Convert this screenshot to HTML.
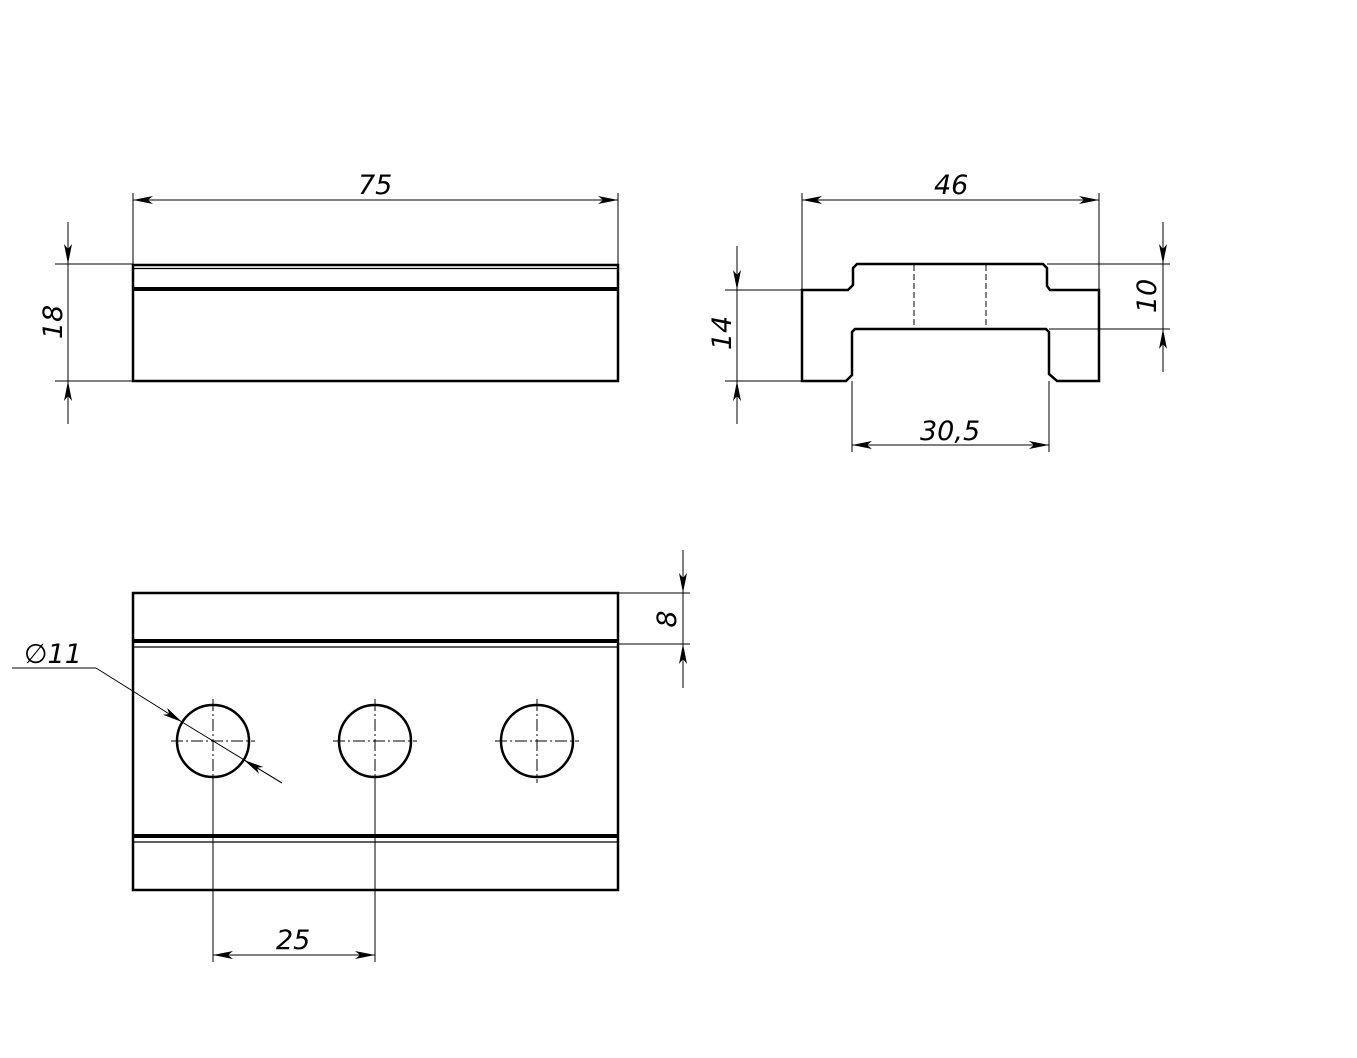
<!DOCTYPE html>
<html><head><meta charset="utf-8"><style>
html,body{margin:0;padding:0;background:#fff;}
svg{display:block}
text{font-family:"DejaVu Sans","Liberation Sans",sans-serif;font-style:italic;font-size:27px;fill:#000}
</style></head><body>
<svg width="1357" height="1058" viewBox="0 0 1357 1058" xmlns="http://www.w3.org/2000/svg">
<defs>
<marker id="a" viewBox="0 0 20 8" refX="20" refY="4" markerWidth="20" markerHeight="8" markerUnits="userSpaceOnUse" orient="auto"><path d="M0,0 L20,4 L0,8 L5,4 Z" fill="#000"/></marker>
</defs>
<g fill="none" stroke="#000">
<!-- Front view -->
<rect x="133" y="265" width="485" height="116" stroke-width="2.5"/>
<line x1="133" y1="268.5" x2="618" y2="268.5" stroke-width="1.2"/>
<line x1="133" y1="289" x2="618" y2="289" stroke-width="4"/>
<!-- dim 75 -->
<line x1="133" y1="193" x2="133" y2="264" stroke-width="1"/>
<line x1="618" y1="193" x2="618" y2="264" stroke-width="1"/>
<line x1="160" y1="200" x2="133" y2="200" stroke-width="1" marker-end="url(#a)"/>
<line x1="160" y1="200" x2="618" y2="200" stroke-width="1" marker-end="url(#a)"/>
<!-- dim 18 -->
<line x1="55" y1="264" x2="133" y2="264" stroke-width="1"/>
<line x1="55" y1="381" x2="133" y2="381" stroke-width="1"/>
<line x1="68" y1="222" x2="68" y2="264" stroke-width="1" marker-end="url(#a)"/>
<line x1="68" y1="424" x2="68" y2="381" stroke-width="1" marker-end="url(#a)"/>
<line x1="68" y1="264" x2="68" y2="381" stroke-width="1"/>

<!-- Side view -->
<path d="M802,290 L848,290 L853,285 L853,268 L857,264 L1043,264 L1047,268 L1047,286 L1050,290 L1099,290 L1099,381 L1057,381 L1049,374 L1049,332 L1046,329 L855,329 L852,332 L852,375 L846,381 L802,381 Z" stroke-width="2.5"/>
<line x1="914" y1="265" x2="914" y2="328" stroke-width="1" stroke-dasharray="6,3"/>
<line x1="986" y1="265" x2="986" y2="328" stroke-width="1" stroke-dasharray="6,3"/>
<!-- dim 46 -->
<line x1="802" y1="193" x2="802" y2="290" stroke-width="1"/>
<line x1="1099" y1="193" x2="1099" y2="290" stroke-width="1"/>
<line x1="830" y1="200" x2="802" y2="200" stroke-width="1" marker-end="url(#a)"/>
<line x1="830" y1="200" x2="1099" y2="200" stroke-width="1" marker-end="url(#a)"/>
<!-- dim 14 -->
<line x1="725" y1="290" x2="802" y2="290" stroke-width="1"/>
<line x1="725" y1="381" x2="802" y2="381" stroke-width="1"/>
<line x1="737" y1="246" x2="737" y2="290" stroke-width="1" marker-end="url(#a)"/>
<line x1="737" y1="424" x2="737" y2="381" stroke-width="1" marker-end="url(#a)"/>
<line x1="737" y1="290" x2="737" y2="381" stroke-width="1"/>
<!-- dim 10 -->
<line x1="1047" y1="264" x2="1170" y2="264" stroke-width="1"/>
<line x1="1049" y1="329" x2="1170" y2="329" stroke-width="1"/>
<line x1="1163" y1="222" x2="1163" y2="264" stroke-width="1" marker-end="url(#a)"/>
<line x1="1163" y1="372" x2="1163" y2="329" stroke-width="1" marker-end="url(#a)"/>
<line x1="1163" y1="264" x2="1163" y2="329" stroke-width="1"/>
<!-- dim 30,5 -->
<line x1="852" y1="381" x2="852" y2="452" stroke-width="1"/>
<line x1="1049" y1="381" x2="1049" y2="452" stroke-width="1"/>
<line x1="900" y1="445" x2="852" y2="445" stroke-width="1" marker-end="url(#a)"/>
<line x1="900" y1="445" x2="1049" y2="445" stroke-width="1" marker-end="url(#a)"/>

<!-- Top view -->
<rect x="133" y="593" width="485" height="297" stroke-width="2.5"/>
<line x1="133" y1="641" x2="618" y2="641" stroke-width="4"/>
<line x1="133" y1="647" x2="618" y2="647" stroke-width="1.2"/>
<line x1="133" y1="836" x2="618" y2="836" stroke-width="4"/>
<line x1="133" y1="842" x2="618" y2="842" stroke-width="1.2"/>
<circle cx="213" cy="741" r="36" stroke-width="2.5"/>
<circle cx="375" cy="741" r="36" stroke-width="2.5"/>
<circle cx="537" cy="741" r="36" stroke-width="2.5"/>
<g stroke-width="1" stroke-dasharray="12,3,2,3">
<line x1="171" y1="741" x2="255" y2="741"/><line x1="213" y1="699" x2="213" y2="777"/>
<line x1="333" y1="741" x2="417" y2="741"/><line x1="375" y1="699" x2="375" y2="783"/>
<line x1="495" y1="741" x2="579" y2="741"/><line x1="537" y1="699" x2="537" y2="783"/>
</g>
<line x1="213" y1="777" x2="213" y2="962" stroke-width="1"/>
<line x1="375" y1="777" x2="375" y2="962" stroke-width="1"/>
<line x1="240" y1="955" x2="213" y2="955" stroke-width="1" marker-end="url(#a)"/>
<line x1="240" y1="955" x2="375" y2="955" stroke-width="1" marker-end="url(#a)"/>
<!-- dim 8 -->
<line x1="618" y1="593" x2="690" y2="593" stroke-width="1"/>
<line x1="618" y1="644" x2="690" y2="644" stroke-width="1"/>
<line x1="683" y1="550" x2="683" y2="593" stroke-width="1" marker-end="url(#a)"/>
<line x1="683" y1="688" x2="683" y2="644" stroke-width="1" marker-end="url(#a)"/>
<line x1="683" y1="593" x2="683" y2="644" stroke-width="1"/>
<!-- diameter leader -->
<line x1="12" y1="668" x2="96" y2="668" stroke-width="1"/>
<line x1="96" y1="668" x2="182" y2="722" stroke-width="1" marker-end="url(#a)"/>
<line x1="182" y1="722" x2="282" y2="783" stroke-width="1"/>
<line x1="282" y1="783" x2="244" y2="760" stroke-width="1" marker-end="url(#a)"/>
</g>
<text x="358" y="194">75</text>
<text x="934" y="194">46</text>
<text x="920" y="440">30,5</text>
<text x="276" y="949">25</text>
<text x="24" y="663">∅11</text>
<text transform="translate(62,322) rotate(-90)" text-anchor="middle">18</text>
<text transform="translate(731,333) rotate(-90)" text-anchor="middle">14</text>
<text transform="translate(1156,296) rotate(-90)" text-anchor="middle">10</text>
<text transform="translate(676,619) rotate(-90)" text-anchor="middle">8</text>
</svg>
</body></html>
